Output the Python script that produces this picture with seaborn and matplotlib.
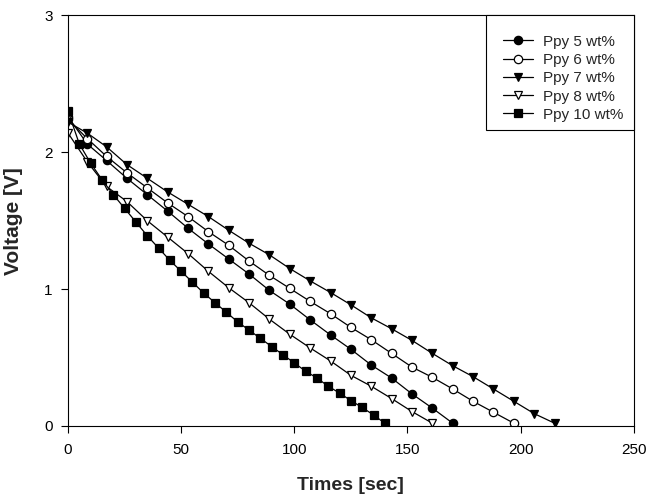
import matplotlib
matplotlib.use("Agg")
import matplotlib.pyplot as plt
from matplotlib.patches import Rectangle
import seaborn as sns
import pandas as pd

# time axis (sec) for the ~9 s sampled series
times = [0, 8.5, 17, 26, 35, 44, 53, 62, 71, 80, 89, 98, 107, 116, 125,
         134, 143, 152, 161, 170, 179, 188, 197, 206, 215]
# time axis for the 5 s sampled series
times_10 = [0, 5, 10, 15, 20, 25, 30, 35, 40, 45, 50, 55, 60, 65, 70, 75,
            80, 85, 90, 95, 100, 105, 110, 115, 120, 125, 130, 135, 140]

ppy5 = [2.26, 2.06, 1.94, 1.81, 1.69, 1.57, 1.445, 1.33, 1.22, 1.11, 0.99,
        0.89, 0.775, 0.665, 0.56, 0.445, 0.35, 0.234, 0.13, 0.02]
ppy6 = [2.24, 2.10, 1.97, 1.85, 1.74, 1.63, 1.53, 1.42, 1.32, 1.205, 1.10,
        1.005, 0.91, 0.82, 0.72, 0.63, 0.53, 0.43, 0.355, 0.27, 0.18, 0.10, 0.02]
ppy7 = [2.22, 2.14, 2.04, 1.91, 1.81, 1.71, 1.62, 1.53, 1.43, 1.335, 1.25,
        1.15, 1.06, 0.975, 0.885, 0.79, 0.71, 0.625, 0.53, 0.44, 0.36, 0.27,
        0.18, 0.09, 0.02]
ppy8 = [2.14, 1.93, 1.75, 1.64, 1.50, 1.38, 1.26, 1.13, 1.01, 0.90, 0.78,
        0.67, 0.57, 0.475, 0.37, 0.29, 0.20, 0.105, 0.02]
ppy10 = [2.30, 2.06, 1.92, 1.80, 1.69, 1.59, 1.49, 1.39, 1.30, 1.21, 1.13,
         1.05, 0.97, 0.90, 0.83, 0.76, 0.70, 0.64, 0.58, 0.52, 0.46, 0.40,
         0.35, 0.29, 0.24, 0.185, 0.135, 0.08, 0.02]

labels = ["Ppy 5 wt%", "Ppy 6 wt%", "Ppy 7 wt%", "Ppy 8 wt%", "Ppy 10 wt%"]
x_ticks = [0, 50, 100, 150, 200, 250]
y_ticks = [0, 1, 2, 3]

sns.set_style("ticks")
plt.rcParams["font.family"] = ["Liberation Sans", "DejaVu Sans"]

fig = plt.figure(figsize=(6.48, 4.97), dpi=100)
ax = fig.add_axes([0.105, 0.143, 0.873, 0.826])

series = [
    (times[:len(ppy5)], ppy5, "o", "black", 6.0),
    (times[:len(ppy6)], ppy6, "o", "white", 6.0),
    (times[:len(ppy7)], ppy7, "v", "black", 6.0),
    (times[:len(ppy8)], ppy8, "v", "white", 6.0),
    (times_10, ppy10, "s", "black", 5.2),
]

handles = []
for (xs, ys, mk, fc, ms), lab in zip(series, labels):
    df = pd.DataFrame({"t": xs, "v": ys})
    sns.lineplot(data=df, x="t", y="v", ax=ax, color="black", linewidth=0.9,
                 marker=mk, markersize=ms,
                 markerfacecolor=fc, markeredgecolor="black",
                 markeredgewidth=0.9, legend=False)
    handles.append(ax.lines[-1])

ax.set_xlim(0, 250)
ax.set_ylim(0, 3)
ax.set_xticks(x_ticks)
ax.set_yticks(y_ticks)
ax.tick_params(axis="both", direction="out", length=5, width=0.8,
               labelsize=11, colors="black", top=False, right=False)
ax.tick_params(axis="x", pad=7.5)
ax.tick_params(axis="y", pad=6)
for s in ax.spines.values():
    s.set_visible(True)
    s.set_color("black")
    s.set_linewidth(0.8)

ax.set_xlabel("Times [sec]", fontsize=14, fontweight="bold")
ax.set_ylabel("Voltage [V]", fontsize=15, fontweight="bold")
ax.xaxis.set_label_coords(0.5, -0.124)
ax.yaxis.set_label_coords(-0.079, 0.5)

# legend frame (touching the top-right corner of the axes)
ax.add_patch(Rectangle((0.7385, 0.72), 0.2615, 0.28, transform=ax.transAxes,
                       facecolor="white", edgecolor="black", linewidth=0.8,
                       zorder=5, clip_on=False))
leg = ax.legend(handles, labels, loc="upper left",
                bbox_to_anchor=(0.7686, 0.953), frameon=False, fontsize=11,
                handlelength=2.0, handletextpad=0.6, labelspacing=0.28,
                borderaxespad=0.0, borderpad=0.0, numpoints=1)
leg.set_zorder(6)

fig.savefig("out.png", dpi=100)
